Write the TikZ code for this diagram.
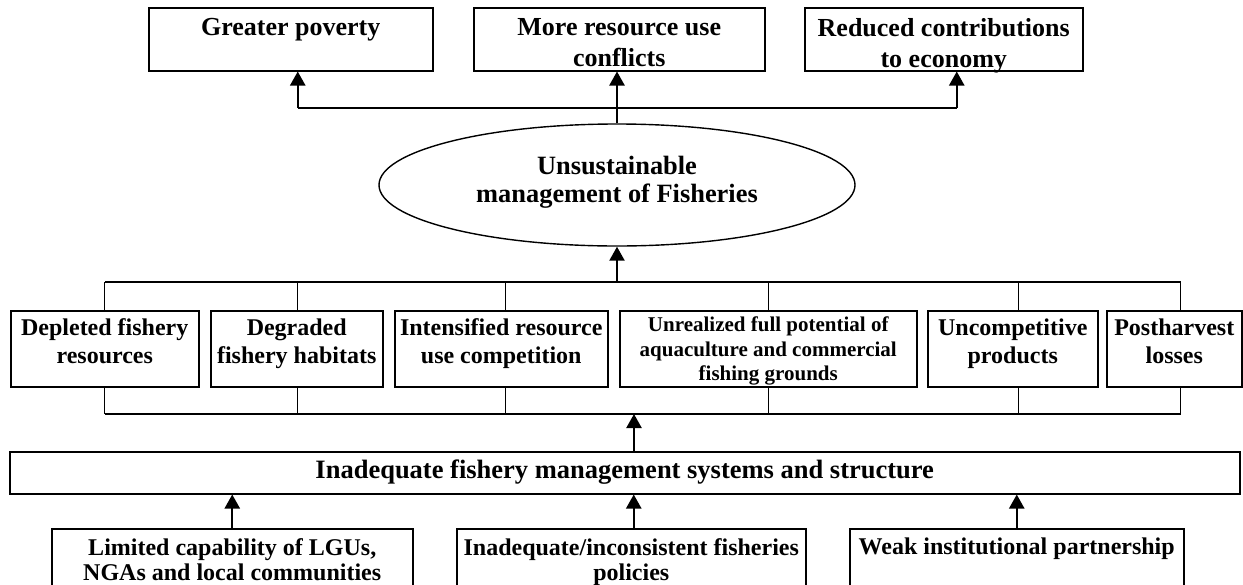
\documentclass[tikz,border=0pt]{standalone}
\usepackage{fontspec}
\setmainfont{Liberation Serif}
\usetikzlibrary{arrows.meta,shapes.geometric}
\begin{document}
\begin{tikzpicture}[x=1pt,y=-1pt,
  box/.style={draw, line width=1.5pt, rectangle, inner sep=0pt, anchor=north west},
  txt/.style={anchor=north, inner sep=0pt, align=center},
  tA/.style={txt, font=\fontsize{26}{31}\selectfont\bfseries},
  tE/.style={txt, font=\fontsize{26.4}{28}\selectfont\bfseries},
  tM/.style={txt, font=\fontsize{24}{28}\selectfont\bfseries},
  tS/.style={txt, font=\fontsize{21}{24.5}\selectfont\bfseries},
  tB/.style={txt, font=\fontsize{24}{25}\selectfont\bfseries},
  conn/.style={line width=1.4pt},
  arr/.style={line width=2.3pt, -{Triangle[width=15pt,length=14pt]}},
]
\useasboundingbox (0,0) rectangle (1243,584);
\clip (0,0) rectangle (1243,584);

% top effect boxes
\node[box, minimum width=284pt, minimum height=63pt] (gp) at (148,7) {};
\node[box, minimum width=291pt, minimum height=63pt] (mr) at (473,7) {};
\node[box, minimum width=278pt, minimum height=63pt] (rc) at (804,7) {};
\node[tA] (gpt) at ([yshift=-11pt]gp.north) {Greater poverty};
\node[tA] (mrt) at ([yshift=-11pt]mr.north) {More resource use\\conflicts};
\node[tA] (rct) at ([yshift=-11pt]rc.north) {Reduced contributions\\to economy};

% central problem
\node[draw, ellipse, line width=1.4pt, minimum width=476pt, minimum height=122pt, inner sep=0pt] (el) at (617,185) {};
\node[tE] (elt) at (617,156) {Unsustainable\\management of Fisheries};

% connectors to effects
\coordinate (tj) at (617,108);
\coordinate (gpa) at ([xshift=7pt]gp.south);
\coordinate (rca) at ([xshift=13pt]rc.south);
\draw[conn] (gpa |- tj) -- (rca |- tj);
\draw[arr] (gpa |- tj) -- (gpa);
\draw[arr] (rca |- tj) -- (rca);
\draw[arr] (el.north) -- (el.north |- mr.south);

% middle row boxes
\node[box, minimum width=188pt, minimum height=76pt] (d1) at (10,310) {};
\node[box, minimum width=172pt, minimum height=76pt] (d2) at (210,310) {};
\node[box, minimum width=213pt, minimum height=76pt] (d3) at (394,310) {};
\node[box, minimum width=297pt, minimum height=76pt] (d4) at (619,310) {};
\node[box, minimum width=170pt, minimum height=76pt] (d5) at (927,310) {};
\node[box, minimum width=135pt, minimum height=76pt] (d6) at (1106,310) {};
\node[tM] (d1t) at ([yshift=-8.5pt]d1.north) {Depleted fishery\\resources};
\node[tM] (d2t) at ([yshift=-8.5pt]d2.north) {Degraded\\fishery habitats};
\node[tM] (d3t) at ([yshift=-8.5pt]d3.north) {Intensified resource\\use competition};
\node[tS] (d4t) at ([yshift=-7pt]d4.north) {Unrealized full potential of\\aquaculture and commercial\\fishing grounds};
\node[tM] (d5t) at ([yshift=-8.5pt]d5.north) {Uncompetitive\\products};
\node[tM] (d6t) at ([yshift=-8.5pt]d6.north) {Postharvest\\losses};

% upper bar
\coordinate (mb) at (617,282);
\draw[conn] (d1.north |- mb) -- ([xshift=6.5pt]d6.north |- mb);
\draw[conn] (d1.north) -- (d1.north |- mb);
\draw[conn] ([xshift=1pt]d2.north) -- ([xshift=1pt]d2.north |- mb);
\draw[conn] ([xshift=4.5pt]d3.north) -- ([xshift=4.5pt]d3.north |- mb);
\draw[conn] (d4.north) -- (d4.north |- mb);
\draw[conn] ([xshift=5.5pt]d5.north) -- ([xshift=5.5pt]d5.north |- mb);
\draw[conn] ([xshift=6.5pt]d6.north) -- ([xshift=6.5pt]d6.north |- mb);
\draw[arr] (el.south |- mb) -- (el.south);

% lower bar
\coordinate (lb) at (634,414);
\draw[conn] (d1.south |- lb) -- ([xshift=6.5pt]d6.south |- lb);
\draw[conn] (d1.south) -- (d1.south |- lb);
\draw[conn] ([xshift=1pt]d2.south) -- ([xshift=1pt]d2.south |- lb);
\draw[conn] ([xshift=4.5pt]d3.south) -- ([xshift=4.5pt]d3.south |- lb);
\draw[conn] (d4.south) -- (d4.south |- lb);
\draw[conn] ([xshift=5.5pt]d5.south) -- ([xshift=5.5pt]d5.south |- lb);
\draw[conn] ([xshift=6.5pt]d6.south) -- ([xshift=6.5pt]d6.south |- lb);

% wide box
\node[box, minimum width=1230pt, minimum height=42pt] (wb) at (9,451) {};
\node[anchor=base, inner sep=0pt, font=\fontsize{26.5}{31}\selectfont\bfseries] (wbt) at ([yshift=-6pt]wb.center) {Inadequate fishery management systems and structure};
\draw[arr] (lb |- wb.north) -- (lb);

% bottom cause boxes
\node[box, minimum width=361pt, minimum height=80pt] (b1) at (51,528) {};
\node[box, minimum width=349pt, minimum height=80pt] (b2) at (456,528) {};
\node[box, minimum width=334pt, minimum height=80pt] (b3) at (849,528) {};
\node[tB] (b1t) at ([yshift=-10pt]b1.north) {Limited capability of LGUs,\\NGAs and local communities};
\node[tB] (b2t) at ([yshift=-10pt]b2.north) {Inadequate/inconsistent fisheries\\policies};
\node[tB] (b3t) at ([yshift=-10pt]b3.north) {Weak institutional partnership};
\draw[arr] (b1.north) -- (b1.north |- wb.south);
\draw[arr] ([xshift=2.5pt]b2.north) -- ([xshift=2.5pt]b2.north |- wb.south);
\draw[arr] (b3.north) -- (b3.north |- wb.south);
\end{tikzpicture}
\end{document}
